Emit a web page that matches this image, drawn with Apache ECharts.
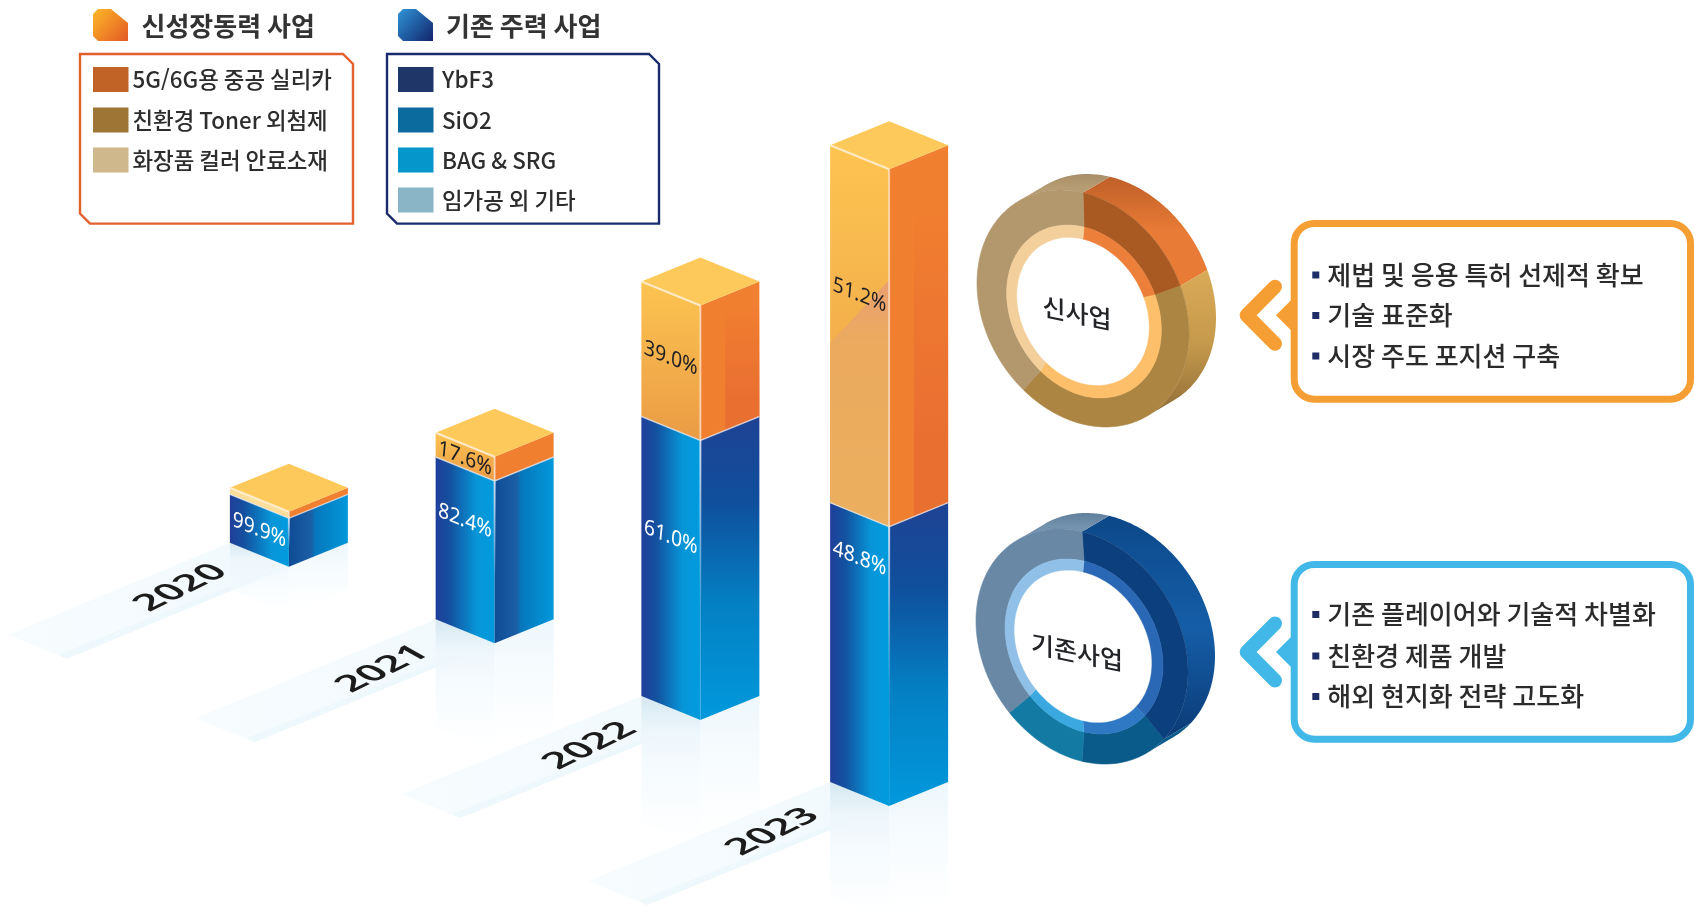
<!DOCTYPE html>
<html lang="ko">
<head>
<meta charset="utf-8">
<title>사업 구조</title>
<script src="https://cdn.jsdelivr.net/npm/echarts@6/dist/echarts.min.js"></script>
<style>html,body{margin:0;padding:0;background:#fff}#c{width:1694px;height:921px}</style>
</head>
<body>
<div id="c"></div>
<script>
// ---- data ----
const years = ['2020', '2021', '2022', '2023'];
const coreValues = [48.4, 162.3, 279.5, 279.3];
const newValues = [6.6, 24.3, 135, 357.4];
const coreShares = [99.9, 82.4, 61.0, 48.8];
const newShares = [null, 17.6, 39.0, 51.2];
const newSlices = [18.5, 41, 40.5];
const coreSlices = [36, 14, 12, 38];
const newLegend = ['5G/6G용 중공 실리카', '친환경 Toner 외첨제', '화장품 컬러 안료소재'];
const coreLegend = ['YbF3', 'SiO2', 'BAG & SRG', '임가공 외 기타'];
const newHeader = '신성장동력 사업';
const coreHeader = '기존 주력 사업';
const newPoints = ['제법 및 응용 특허 선제적 확보', '기술 표준화', '시장 주도 포지션 구축'];
const corePoints = ['기존 플레이어와 기술적 차별화', '친환경 제품 개발', '해외 현지화 전략 고도화'];

// ---- layout constants ----
const KR = '"Noto Sans CJK KR"';
const halfW = 59;
const groundLift = [354.3, 277.7, 201, 115];
const xNudge = [0, 0, 0, -17];
const topDepth = [24, 24, 24, 24];
const coreLabelDrop = [24, 52, 109, 44];
const newLabelDrop = [0, 14, 65, 138];
const yearPos = [[181, 588], [383, 669], [590, 746], [773, 832]];
const reflect = [47, 107, 126, 115];
const floorRun = [[-222, 92], [-240, 99], [-240, 98], [-242, 99]];
const flatRightBlue = [true, true, false, false];

const G = (x, y, x2, y2, stops) => new echarts.graphic.LinearGradient(x, y, x2, y2,
  stops.map(s => ({ offset: s[0], color: s[1] })));

function sheared(x, y, m, el) {
  const [a, c, b, d] = m;
  const E = (a + d) / 2, F = (a - d) / 2, Gg = (b + c) / 2, H = (b - c) / 2;
  const Q = Math.hypot(E, H), R = Math.hypot(F, Gg);
  const a1 = Math.atan2(Gg, F), a2 = Math.atan2(H, E);
  const th = (a2 - a1) / 2, ph = (a2 + a1) / 2;
  return {
    type: 'group', x, y, rotation: -ph, scaleX: Q + R, scaleY: Q - R,
    children: [Object.assign({ rotation: -th }, el)]
  };
}
const txt = (text, font, fill) => ({
  type: 'text', x: 0, y: 0,
  style: { text, font, fill, align: 'center', verticalAlign: 'middle' }
});

function barGeom(api) {
  const i = api.value(0);
  const base = api.coord([i, groundLift[i]]);
  const core = api.coord([i, groundLift[i] + api.value(1)]);
  const tot = api.coord([i, groundLift[i] + api.value(1) + api.value(2)]);
  const C = base[0] + xNudge[i];
  return { i, C, L: C - halfW, R: C + halfW, y0: base[1], y1: core[1], y2: tot[1], dep: topDepth[i] };
}

function renderFloor(params, api) {
  const g = barGeom(api);
  const [dx, dy] = floorRun[g.i];
  const h = reflect[g.i];
  const ch = [];
  ch.push({
    type: 'polygon',
    shape: { points: [[g.L, g.y0 - g.dep], [g.C, g.y0], [g.C + dx, g.y0 + dy], [g.L + dx, g.y0 - g.dep + dy]] },
    style: { fill: G(1, 0, 0, 0, [[0, '#f1f9fd'], [1, '#f7fcfe']]) }
  });
  ch.push({
    type: 'polygon',
    shape: { points: [[g.C - 30, g.y0 + 8], [g.C, g.y0], [g.C + dx, g.y0 + dy], [g.C + dx - 8, g.y0 + dy - 4]] },
    style: { fill: '#e8f5fb', opacity: 0.5 }
  });
  ch.push({
    type: 'polygon',
    shape: { points: [[g.L, g.y0 - g.dep], [g.C, g.y0], [g.C, g.y0 + h], [g.L, g.y0 - g.dep + h]] },
    style: { fill: G(0, 0, 0, 1, [[0, '#d6e8f1'], [0.25, '#eef7fc'], [1, 'rgba(245,251,254,0)']]) }
  });
  ch.push({
    type: 'polygon',
    shape: { points: [[g.R, g.y0 - g.dep], [g.C, g.y0], [g.C, g.y0 + h], [g.R, g.y0 - g.dep + h]] },
    style: { fill: G(0, 0, 0, 1, [[0, '#edf7fc'], [1, 'rgba(247,252,254,0)']]) }
  });
  return { type: 'group', children: ch };
}

function renderBar(params, api) {
  const g = barGeom(api);
  const { L, C, R, y0, y1, y2, dep } = g;
  const ch = [];
  const face = (pts, fill) => ch.push({ type: 'polygon', shape: { points: pts }, style: { fill } });
  // existing business, left and right faces
  face([[L, y1 - dep], [C, y1], [C, y0], [L, y0 - dep]],
    G(0, 0, 1, 0, [[0, '#203f9a'], [0.25, '#14519f'], [0.7, '#0796d8'], [1, '#019bde']]));
  face([[R, y1 - dep], [C, y1], [C, y0], [R, y0 - dep]],
    flatRightBlue[g.i]
      ? G(0, 0, 1, 0, [[0, '#0f4c96'], [0.38, '#1b5fa6'], [0.45, '#0677bd'], [1, '#0398da']])
      : G(0, 0, 0, 1, [[0, '#1f4294'], [0.28, '#0f4f9c'], [0.62, '#0480c4'], [1, '#0199dc']]));
  // new business, left and right faces
  const hN = y1 - y2;
  face([[L, y2 - dep], [C, y2], [C, y1], [L, y1 - dep]],
    g.i === 0 ? '#fcdd9a' : G(0, 0, 0, 1, [[0, '#fdc451'], [1, '#ea9b45']]));
  face([[R, y2 - dep], [C, y2], [C, y1], [R, y1 - dep]], '#f17f30');
  if (hN > 100) {
    const bx = C + 0.42 * halfW;
    face([[bx, y2 - dep * 0.42], [R, y2 - dep], [R, y1 - dep], [bx, y1 - dep * 0.42]],
      G(0, 0, 0, 1, [[0.15, 'rgba(232,108,48,0)'], [0.8, '#e96f31'], [1, '#e96f31']]));
  }
  if (hN > 300) {
    face([[L, y2 - dep + 0.554 * hN], [C, y2 + 0.31 * hN], [C, y1], [L, y1 - dep]],
      G(0, 0, 0, 1, [[0, '#ea9f72'], [0.25, '#ebaa5e'], [1, '#ebaf5f']]));
  }
  // top
  face([[L, y2 - dep], [C, y2 - 2 * dep], [R, y2 - dep], [C, y2]], '#fec95b');
  // highlights
  ch.push({
    type: 'polyline', shape: { points: [[L, y2 - dep], [C, y2]] },
    style: { stroke: 'rgba(255,240,214,0.85)', lineWidth: 2, fill: null }
  });
  ch.push({
    type: 'polyline', shape: { points: [[L, y1 - dep], [C, y1], [R, y1 - dep]] },
    style: { stroke: 'rgba(225,232,245,0.7)', lineWidth: 1.4, fill: null }
  });
  ch.push({
    type: 'rect', shape: { x: C - 1, y: y2, width: 2, height: hN },
    style: { fill: 'rgba(255,240,230,0.6)' }
  });
  ch.push({
    type: 'rect', shape: { x: C - 1, y: y1, width: 2, height: (y0 - y1) * 0.6 },
    style: { fill: G(0, 0, 0, 1, [[0, 'rgba(235,242,255,0.8)'], [1, 'rgba(235,242,255,0)']]) }
  });
  // share labels on the left face
  const lx = (L + C) / 2;
  const m = [0.95, -0.1, 0.38, 1.05];
  const core = coreShares[g.i], nw = newShares[g.i];
  const font = '400 20px "Noto Sans"';
  ch.push(sheared(lx, (y1 + y1 - dep) / 2 + coreLabelDrop[g.i], m, txt(core.toFixed(1) + '%', font, '#ffffff')));
  if (nw !== null) {
    ch.push(sheared(lx, (y2 + y2 - dep) / 2 + newLabelDrop[g.i], m, txt(nw.toFixed(1) + '%', font, '#1f1f24')));
  }
  return { type: 'group', children: ch };
}

function renderYear(params, api) {
  const i = api.value(0);
  const [x, y] = yearPos[i];
  return sheared(x, y, [0.82, 0.68, -0.4, 0.38], txt(years[i], '600 43px "Noto Sans"', '#1c1c1c'));
}

function donut(cfg) {
  const total = cfg.values.reduce((s, v) => s + v, 0);
  const [a, c, b, d] = cfg.A;
  const P = (r, deg, off) => {
    const t = deg * Math.PI / 180, ux = Math.sin(t), uy = -Math.cos(t);
    return [cfg.c[0] + (off ? off[0] : 0) + r * (a * ux + c * uy),
            cfg.c[1] + (off ? off[1] : 0) + r * (b * ux + d * uy)];
  };
  const det = a * d - b * c;
  const wx = (d * cfg.ext[0] - c * cfg.ext[1]) / det, wy = (-b * cfg.ext[0] + a * cfg.ext[1]) / det;
  const visible = deg => {
    const t = deg * Math.PI / 180;
    return Math.sin(t) * wx + (-Math.cos(t)) * wy > 0;
  };
  const sector = (r1, o1, r2, o2, s, e) => {
    const pts = [];
    for (let x = s; x < e; x += 2) pts.push(P(r1, x, o1));
    pts.push(P(r1, e, o1));
    for (let x = e; x > s; x -= 2) pts.push(P(r2, x, o2));
    pts.push(P(r2, s, o2));
    return pts;
  };
  return function (params, api) {
    const idx = params.dataIndex;
    let before = 0;
    for (let k = 0; k < idx; k++) before += cfg.values[k];
    const s = before / total * 360, e = (before + api.value(0)) / total * 360;
    const wallPts = [], front = [];
    for (let x = s; x <= e; x += 1) if (visible(x)) front.push(x);
    if (visible(e)) front.push(e);
    const ch = [];
    if (front.length > 1) {
      front.forEach(x => wallPts.push(P(1, x)));
      front.slice().reverse().forEach(x => wallPts.push(P(1, x, cfg.ext)));
      ch.push({
        type: 'polygon', z2: 1, shape: { points: wallPts },
        style: { fill: G(0, 0, 0, 1, cfg.wall[idx].map((col, n, arr) => [n / (arr.length - 1), col])) }
      });
    }
    ch.push({
      type: 'polygon', z2: 2, shape: { points: sector(1, null, cfg.r2, cfg.o2, s, e) },
      style: { fill: cfg.face[idx], stroke: cfg.face[idx], lineWidth: 0.6 }
    });
    ch.push({
      type: 'polygon', z2: 3, shape: { points: sector(cfg.r2, cfg.o2, cfg.r3, cfg.o3, s, e) },
      style: { fill: cfg.ring[idx], stroke: cfg.ring[idx], lineWidth: 0.4 }
    });
    if (idx === cfg.values.length - 1) {
      const t = sheared(cfg.label[0], cfg.label[1], [1, 0, 0.2, 1], txt(cfg.text, '500 25px ' + KR, '#222428'));
      t.z2 = 5;
      ch.push(t);
    }
    return { type: 'group', children: ch };
  };
}

const newDonut = {
  values: newSlices, c: [1083, 308.5], A: [106, 0, 25.5, 115.7], ext: [27, -16],
  r2: 0.73, o2: [1, 3], r3: 0.625, o3: [0, 3], text: '신사업', label: [1077, 313],
  face: ['#a85a22', '#ad8542', '#b3976d'],
  ring: ['#ec803a', '#fdbf69', '#f3cf9b'],
  wall: [['#bf5f28', '#e87b36', '#e87b36'], ['#d9aa57', '#c69a4c', '#8f6c37'], ['#a98f69', '#b69c72', '#b69c72']]
};
const coreDonut = {
  values: coreSlices, c: [1082, 646.5], A: [106, 0, 25.5, 114.7], ext: [27, -16],
  r2: 0.745, o2: [2, 0], r3: 0.65, o3: [1, 0], text: '기존사업', label: [1077, 652],
  face: ['#0b3f7e', '#0a5a8a', '#137aa3', '#6888a6'],
  ring: ['#2a68b5', '#2f78c4', '#3ca8e0', '#90c0e7'],
  wall: [['#0c4889', '#155ea8', '#0b3a75'], ['#0a5a8a', '#0a5a8a'], ['#137aa3', '#137aa3'], ['#5f7f9b', '#7392ad', '#7392ad']]
};

// ---- legend and callouts ----
const gfx = [];
function legend(x, w, inX, textX, headX, stroke, iconStops, header, names, colors, fontPx) {
  const top = 54, bot = 223.6, cut = 10;
  gfx.push({
    type: 'polygon', shape: { points: [[inX + 5, 9], [inX + 18, 9], [inX + 35, 23], [inX + 35, 41], [inX + 5, 41], [inX, 36], [inX, 14]] },
    style: { fill: G(0, 0, 1, 1, iconStops) }
  });
  gfx.push({ type: 'text', x: headX, y: 26, style: { text: header, font: '700 26px ' + KR, fill: '#333333', align: 'left', verticalAlign: 'middle' } });
  gfx.push({
    type: 'polygon',
    shape: { points: [[x, top], [x + w - cut, top], [x + w, top + cut], [x + w, bot], [x + cut, bot], [x, bot - cut]] },
    style: { fill: '#ffffff', stroke, lineWidth: 2.4 }
  });
  const rows = [79.4, 120, 160, 200];
  names.forEach((name, i) => {
    gfx.push({ type: 'rect', shape: { x: inX, y: rows[i] - 12.5, width: 35.5, height: 25 }, style: { fill: colors[i] } });
    gfx.push({ type: 'text', x: textX, y: rows[i], style: { text: name, font: '500 ' + fontPx + 'px ' + KR, fill: '#2d2d2d', align: 'left', verticalAlign: 'middle' } });
  });
}
legend(80, 273, 93, 132.5, 141.5, '#e4602e', [[0, '#fdb827'], [1, '#e35a26']], newHeader, newLegend, ['#c16327', '#9e7535', '#cfb88c'], 22.4);
legend(387, 272, 398, 442, 446, '#1a2b6d', [[0, '#2f95d8'], [1, '#12246b']], coreHeader, coreLegend, ['#1e3768', '#0b6b9f', '#0596cb', '#8ab5c6'], 22.4);

function callout(top, bot, mid, color, points, rows) {
  gfx.push({ type: 'rect', shape: { x: 1294.2, y: top + 3.5, width: 396.3, height: bot - top - 7, r: 20 }, style: { fill: '#ffffff', stroke: color, lineWidth: 7 } });
  gfx.push({ type: 'polygon', shape: { points: [[1276, mid], [1296, mid - 20], [1296, mid + 20]] }, style: { fill: color } });
  gfx.push({
    type: 'polyline', shape: { points: [[1275, mid - 28.5], [1246.7, mid], [1275, mid + 28.5]] },
    style: { stroke: color, lineWidth: 14, lineCap: 'round', lineJoin: 'round', fill: null }
  });
  points.forEach((p, i) => {
    gfx.push({ type: 'rect', shape: { x: 1312.3, y: rows[i] - 3.5, width: 7, height: 7 }, style: { fill: '#1f2d66' } });
    gfx.push({ type: 'text', x: 1327.3, y: rows[i], style: { text: p, font: '500 26px ' + KR, fill: '#2b2b2b', align: 'left', verticalAlign: 'middle' } });
  });
}
callout(220, 402.7, 315.3, '#f59e33', newPoints, [275, 315.5, 356]);
callout(561, 742.7, 652, '#42b8e8', corePoints, [614.5, 656, 696.5]);

// ---- chart ----
const barRows = years.map((y, i) => [i, coreValues[i], newValues[i]]);
const chart = echarts.init(document.getElementById('c'), null, { renderer: 'canvas' });
chart.setOption({
  backgroundColor: '#ffffff',
  animation: false,
  grid: { left: 186, width: 823, top: 0, height: 921 },
  xAxis: { type: 'category', data: years, show: false },
  yAxis: { type: 'value', min: 0, max: 921, show: false },
  graphic: { elements: gfx },
  series: [
    { type: 'custom', name: 'floor', z: 1, clip: false, renderItem: renderFloor, data: barRows, encode: { x: 0, y: 1 } },
    { type: 'custom', name: 'year', z: 2, clip: false, renderItem: renderYear, data: barRows, encode: { x: 0, y: 1 } },
    { type: 'custom', name: 'bars', z: 3, clip: false, renderItem: renderBar, data: barRows, encode: { x: 0, y: [1, 2] } },
    { type: 'custom', name: '신사업', z: 4, coordinateSystem: 'none', renderItem: donut(newDonut), data: newSlices.map(v => [v]) },
    { type: 'custom', name: '기존사업', z: 4, coordinateSystem: 'none', renderItem: donut(coreDonut), data: coreSlices.map(v => [v]) }
  ]
});
</script>
</body>
</html>
